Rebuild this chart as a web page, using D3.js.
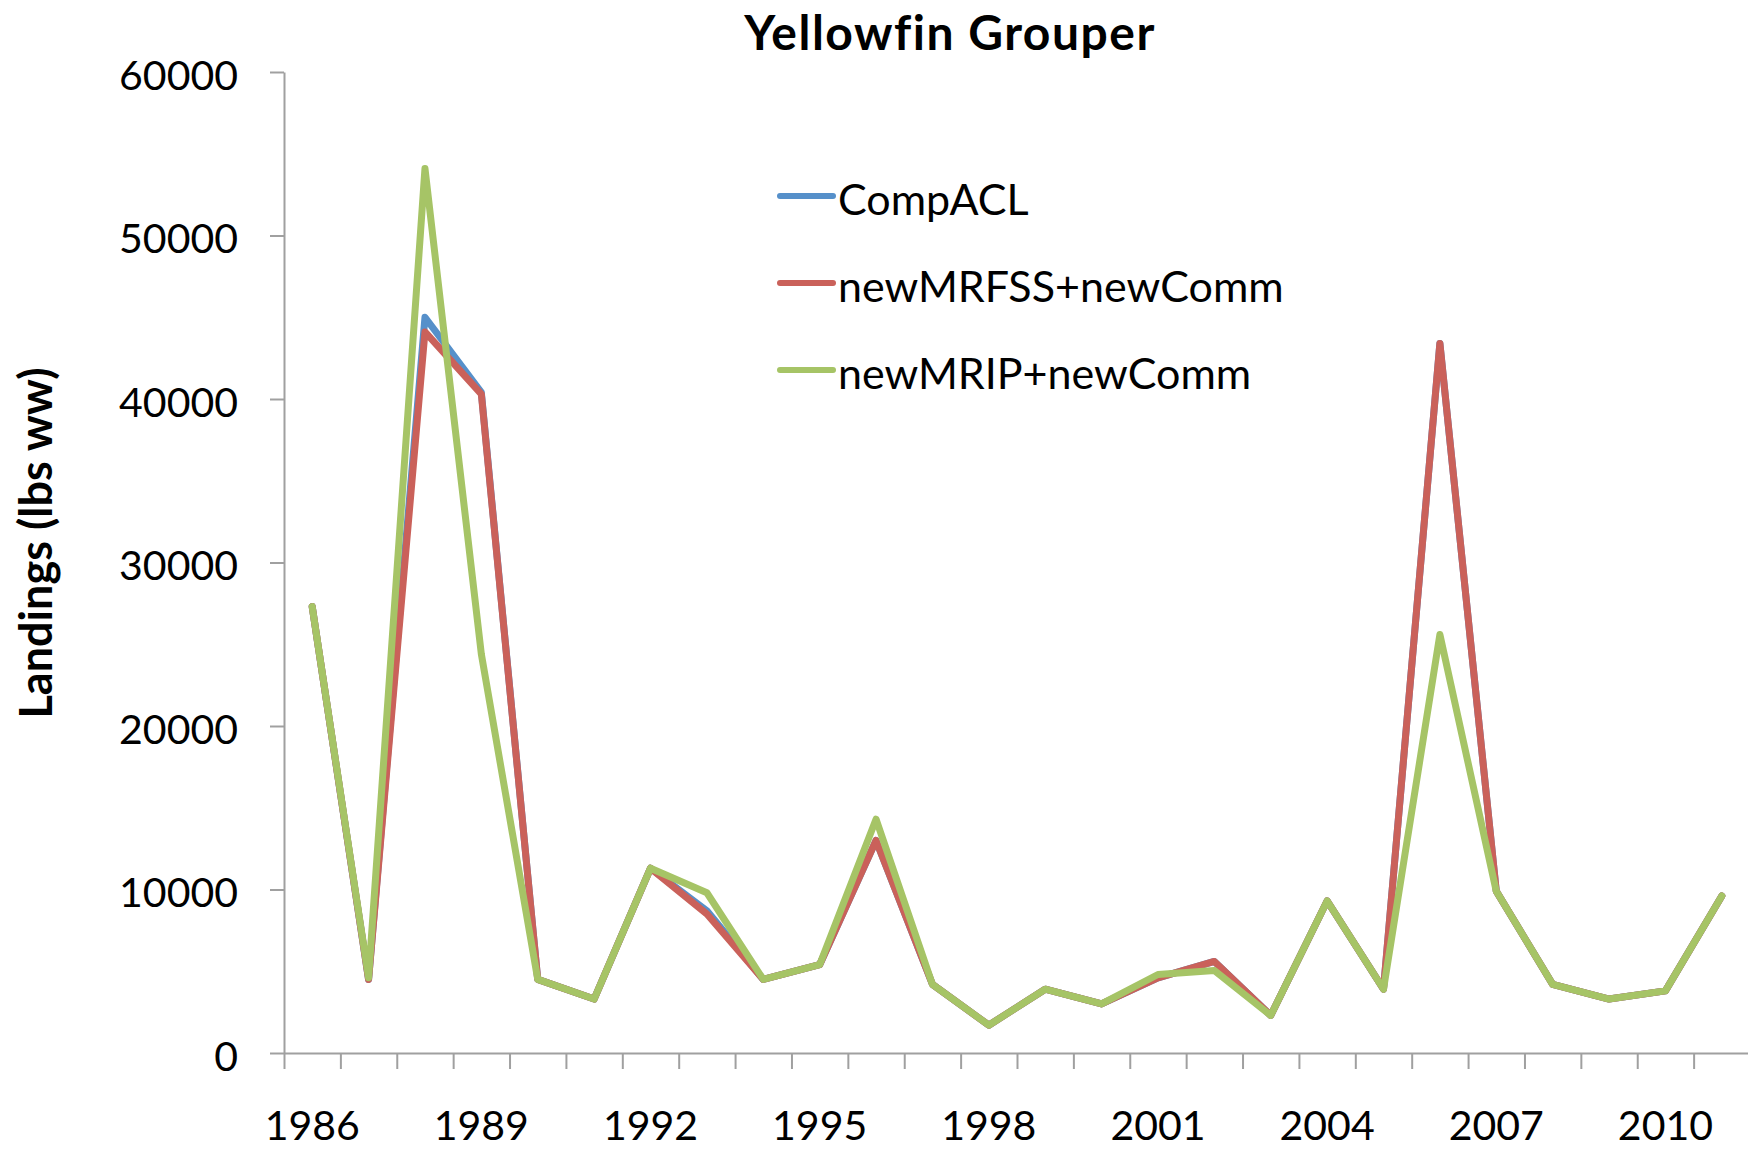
<!DOCTYPE html>
<html>
<head>
<meta charset="utf-8">
<script src="https://cdn.jsdelivr.net/npm/d3@7"></script>
<style>
  body { margin: 0; background: #fff; }
  svg { display: block; }
  text { font-family: Lato, "Open Sans", sans-serif; fill: #000; }
</style>
</head>
<body>
<div id="chart"></div>
<script>
// data (lbs ww)
const years = d3.range(1986, 2012);
const compACL =     [27300, 4500, 45000, 40400, 4500, 3300, 11300, 8700, 4500, 5400, 13000, 4200, 1700, 3900, 3000, 4600, 5600, 2300, 9300, 3900, 43400, 9900, 4200, 3300, 3800, 9600];
const newMRFSS =    [27300, 4500, 44100, 40300, 4500, 3300, 11300, 8500, 4500, 5400, 13000, 4200, 1700, 3900, 3000, 4600, 5600, 2300, 9300, 3900, 43400, 9900, 4200, 3300, 3800, 9600];
const newMRIP =     [27300, 4600, 54100, 24400, 4500, 3300, 11300, 9800, 4500, 5400, 14300, 4200, 1700, 3900, 3000, 4800, 5050, 2300, 9300, 3900, 25600, 9900, 4200, 3300, 3800, 9600];
const seriesNames = ["CompACL", "newMRFSS+newComm", "newMRIP+newComm"];
const yTicks = [0, 10000, 20000, 30000, 40000, 50000, 60000];
const xLabelYears = [1986, 1989, 1992, 1995, 1998, 2001, 2004, 2007, 2010];

const width = 1748, height = 1150;
const margin = { top: 72, right: -2, bottom: 97, left: 284 };
const colors = ["#5690CA", "#CA615A", "#A6C466"];
const axisColor = "#a0a0a0";

const svg = d3.select("#chart").append("svg")
  .attr("width", width)
  .attr("height", height);

const x = d3.scaleBand()
  .domain(years)
  .range([margin.left, width - margin.right])
  .padding(0);

const xEdge = d3.scaleLinear()
  .domain([0, years.length])
  .range([margin.left, width - margin.right]);

const y = d3.scaleLinear()
  .domain([0, 60000])
  .range([height - margin.bottom, margin.top]);

// x axis: tick marks between categories
const gx = svg.append("g")
  .attr("transform", "translate(0," + y(0) + ")")
  .call(d3.axisBottom(xEdge).tickValues(d3.range(years.length + 1)).tickSize(16).tickSizeOuter(0).tickFormat(""));
gx.select(".domain").attr("stroke", axisColor).attr("stroke-width", 2);
gx.selectAll(".tick line").attr("stroke", axisColor).attr("stroke-width", 2);

// x labels every 3 years
const gxl = svg.append("g")
  .attr("transform", "translate(0," + y(0) + ")")
  .call(d3.axisBottom(x).tickValues(xLabelYears).tickSize(0).tickPadding(58));
gxl.select(".domain").remove();
gxl.selectAll("text").style("font-size", "41px").attr("fill", "#000");

// y axis
const gy = svg.append("g")
  .attr("transform", "translate(" + margin.left + ",0)")
  .call(d3.axisLeft(y).tickValues(yTicks).tickFormat(d3.format("d")).tickSize(14).tickSizeOuter(0).tickPadding(32));
gy.select(".domain").attr("stroke", axisColor).attr("stroke-width", 2);
gy.selectAll(".tick line").attr("stroke", axisColor).attr("stroke-width", 2);
gy.selectAll("text").style("font-size", "41px").attr("fill", "#000").attr("dy", "0.42em");

// lines
const line = d3.line()
  .x((d, i) => x(years[i]) + x.bandwidth() / 2)
  .y(d => y(d));

[compACL, newMRFSS, newMRIP].forEach((s, i) => {
  svg.append("path")
    .datum(s)
    .attr("fill", "none")
    .attr("stroke", colors[i])
    .attr("stroke-width", 7)
    .attr("stroke-linejoin", "round")
    .attr("stroke-linecap", "round")
    .attr("d", line);
});

// legend
const legend = svg.append("g").attr("transform", "translate(780,196)");
seriesNames.forEach((name, i) => {
  const g = legend.append("g").attr("transform", "translate(0," + i * 87 + ")");
  g.append("line")
    .attr("x1", 0).attr("x2", 53)
    .attr("stroke", colors[i]).attr("stroke-width", 6).attr("stroke-linecap", "round");
  g.append("text")
    .attr("x", 58).attr("y", 19)
    .style("font-size", "43px")
    .text(name);
});

// title
svg.append("text")
  .attr("x", 950).attr("y", 50)
  .attr("text-anchor", "middle")
  .style("font-size", "48px").style("font-weight", "bold")
  .style("letter-spacing", "1.5px")
  .text("Yellowfin Grouper");

// y axis title
svg.append("text")
  .attr("transform", "translate(52,543) rotate(-90)")
  .attr("text-anchor", "middle")
  .style("font-size", "45px").style("font-weight", "bold")
  .text("Landings (lbs ww)");
</script>
</body>
</html>
